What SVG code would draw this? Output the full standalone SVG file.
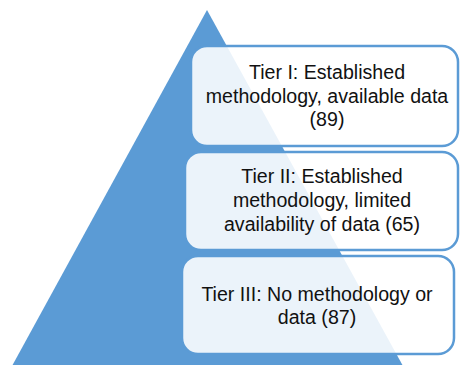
<svg xmlns="http://www.w3.org/2000/svg" width="461" height="365" viewBox="0 0 461 365">
<style>
.box{fill:#ffffff;fill-opacity:0.88;stroke:#5B9BD5;stroke-width:2.5}
.t{font-family:"Liberation Sans",Arial,sans-serif;font-size:19.6px;fill:#111111;text-anchor:middle}
</style>
<rect width="461" height="365" fill="#ffffff"/>
<g id="pyramid"><polygon points="207,10 12,366 403,366" fill="#5B9BD5"/></g>
<g id="connectors"></g>
<g id="tier1">
<rect class="box" x="191" y="46" width="267" height="100" rx="16"/>
<text class="t" x="327" y="79">Tier I: Established</text>
<text class="t" x="327" y="103">methodology, available data</text>
<text class="t" x="327" y="126">(89)</text>
</g>
<g id="tier2">
<rect class="box" x="185" y="152" width="273" height="98" rx="16"/>
<text class="t" x="322" y="183">Tier II: Established</text>
<text class="t" x="322" y="207">methodology, limited</text>
<text class="t" x="322" y="231">availability of data (65)</text>
</g>
<g id="tier3">
<rect class="box" x="182" y="256" width="272" height="98" rx="16"/>
<text class="t" x="317" y="301">Tier III: No methodology or</text>
<text class="t" x="317" y="324">data (87)</text>
</g>
</svg>
